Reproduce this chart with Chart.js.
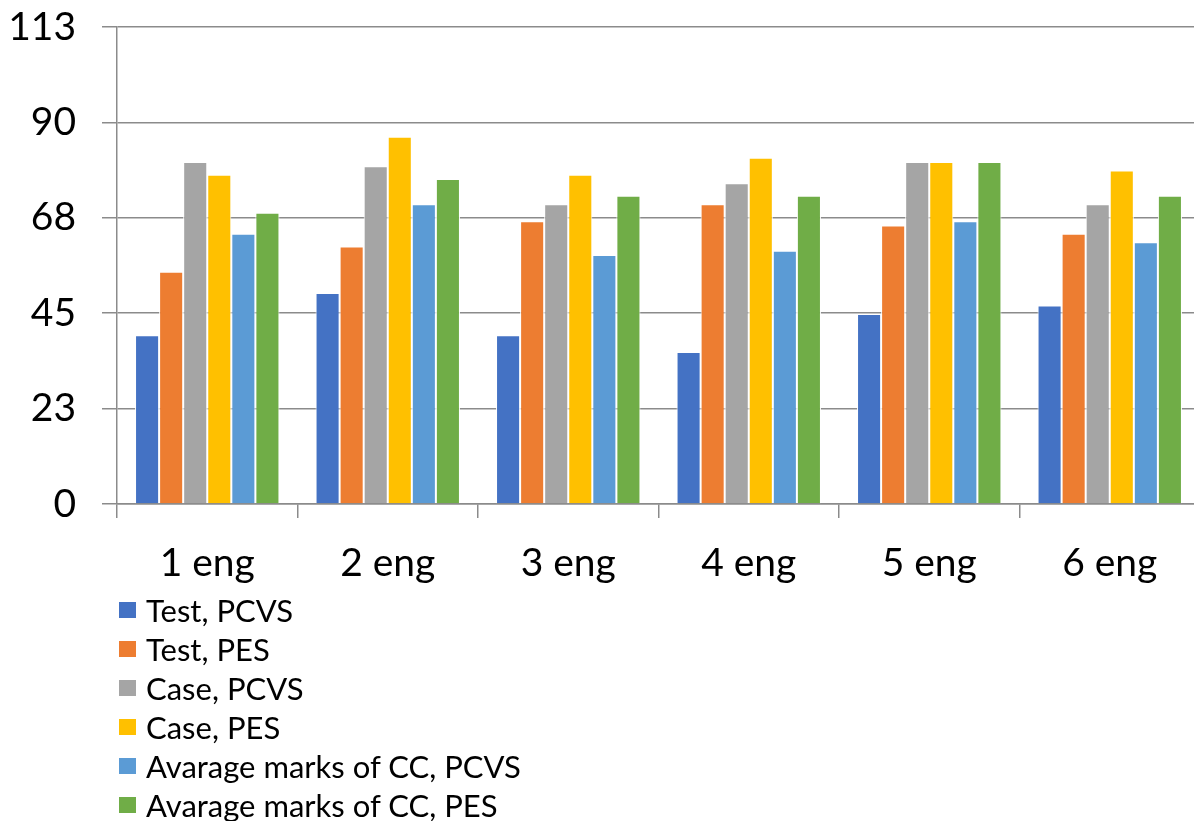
<!DOCTYPE html>
<html>
<head>
<meta charset="utf-8">
<script src="https://cdn.jsdelivr.net/npm/chart.js@4.4.1/dist/chart.umd.min.js"></script>
<style>
  html, body { margin: 0; padding: 0; background: #fff; overflow: hidden; }
  #wrap { position: relative; width: 1200px; height: 821px; }
  #legend { position: absolute; left: 119px; top: 591px; font-family: Lato, sans-serif; font-size: 31px; color: #000; }
  .item { display: flex; align-items: center; height: 38.9px; white-space: nowrap; }
  .box { width: 17px; height: 16px; margin-right: 10px; }
</style>
</head>
<body>
<div id="wrap">
  <canvas id="chart" width="1200" height="821"></canvas>
  <div id="legend"></div>
</div>
<script>
// data
const categories = ['1 eng', '2 eng', '3 eng', '4 eng', '5 eng', '6 eng'];
const seriesNames = [
  'Test, PCVS',
  'Test, PES',
  'Case, PCVS',
  'Case, PES',
  'Avarage marks of CC, PCVS',
  'Avarage marks of CC, PES'
];
const testPCVS = [40, 50, 40, 36, 45, 47];
const testPES  = [55, 61, 67, 71, 66, 64];
const casePCVS = [81, 80, 71, 76, 81, 71];
const casePES  = [78, 87, 78, 82, 81, 79];
const avgPCVS  = [64, 71, 59, 60, 67, 62];
const avgPES   = [69, 77, 73, 73, 81, 73];
const yTickLabels = ['0', '23', '45', '68', '90', '113'];
const yMax = 113;

const colors = ['#4472C4', '#ED7D31', '#A5A5A5', '#FFC000', '#5B9BD5', '#70AD47'];
const series = [testPCVS, testPES, casePCVS, casePES, avgPCVS, avgPES];

const axisGray = '#8b8b8b';
const font = { family: 'Lato, sans-serif', size: 39 };

const chart = new Chart(document.getElementById('chart'), {
  type: 'bar',
  data: {
    labels: categories,
    datasets: series.map((data, i) => ({
      label: seriesNames[i],
      data,
      backgroundColor: colors[i],
      borderColor: '#ffffff',
      borderWidth: 1,
      barPercentage: 1,
      categoryPercentage: 0.8
    }))
  },
  options: {
    responsive: false,
    animation: false,
    layout: { padding: { top: 27, left: 0, right: 0, bottom: 227 } },
    plugins: {
      legend: { display: false },
      tooltip: { enabled: false }
    },
    scales: {
      x: {
        grid: {
          drawOnChartArea: false,
          drawTicks: true,
          tickLength: 14,
          color: axisGray,
          lineWidth: 1.5
        },
        border: { color: axisGray, width: 1.5 },
        ticks: { color: '#000', font, padding: 22 },
        afterFit: (scale) => { scale.height = 90; }
      },
      y: {
        min: 0,
        max: yMax,
        afterBuildTicks: (axis) => {
          axis.ticks = yTickLabels.map((_, i) => ({ value: i * yMax / (yTickLabels.length - 1) }));
        },
        grid: {
          color: axisGray,
          lineWidth: 1.5,
          tickLength: 15
        },
        border: { color: axisGray, width: 1.5 },
        ticks: {
          color: '#000',
          font,
          padding: 26,
          callback: (v, i) => yTickLabels[i]
        },
        afterFit: (scale) => {
          scale.width = 117;
          scale.paddingTop = 0;
          scale.paddingBottom = 0;
        }
      }
    }
  }
});

// legend as a vertical list, like the original
const legend = document.getElementById('legend');
chart.data.datasets.forEach(ds => {
  const row = document.createElement('div');
  row.className = 'item';
  const box = document.createElement('span');
  box.className = 'box';
  box.style.background = ds.backgroundColor;
  const txt = document.createElement('span');
  txt.textContent = ds.label;
  row.appendChild(box);
  row.appendChild(txt);
  legend.appendChild(row);
});
</script>
</body>
</html>
